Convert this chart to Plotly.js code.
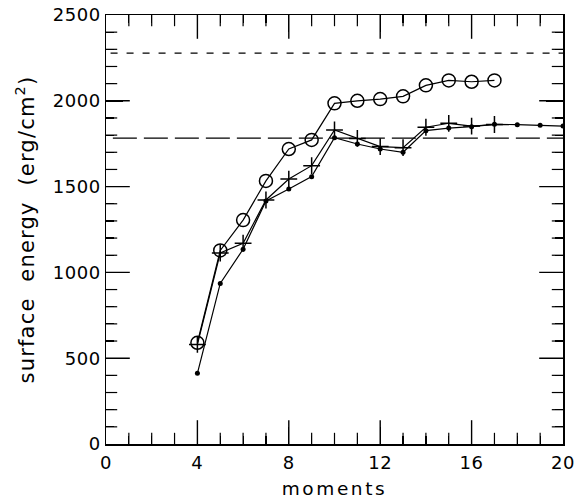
<!DOCTYPE html>
<html>
<head>
<meta charset="utf-8">
<script src="https://cdn.plot.ly/plotly-3.0.1.min.js"></script>
<style>
html,body{margin:0;padding:0;background:#fff;}
#chart{width:574px;height:504px;}
.xtick text, .ytick text{letter-spacing:0.6px;}
.xtitle{letter-spacing:2.6px;}
.ytitle{letter-spacing:1.2px;}
</style>
</head>
<body>
<div id="chart"></div>
<script>
// Data
var momentsCircle = [4, 5, 6, 7, 8, 9, 10, 11, 12, 13, 14, 15, 16, 17];
var energyCircle  = [590, 1128, 1305, 1533, 1719, 1772, 1985, 2000, 2010, 2026, 2090, 2119, 2111, 2119];

var momentsPlus = [4, 5, 6, 7, 8, 9, 10, 11, 12, 13, 14, 15, 16, 17];
var energyPlus  = [580, 1113, 1170, 1422, 1544, 1622, 1830, 1781, 1733, 1727, 1846, 1869, 1853, 1862];

var momentsDot = [4, 5, 6, 7, 8, 9, 10, 11, 12, 13, 14, 15, 16, 17, 18, 19, 20];
var energyDot  = [412, 936, 1135, 1416, 1486, 1558, 1785, 1748, 1719, 1700, 1826, 1841, 1849, 1863, 1861, 1857, 1853];

var refShortDash = 2278;
var refLongDash = 1783;

var xRange = [0, 20];
var yRange = [0, 2500];
var xMajorStep = 4, xMinorStep = 1;
var yMajorStep = 500, yMinorStep = 100;

var lineStyle = {color: '#000', width: 1.2};

// Tick-mark markers along the frame (clipped to the plot, so only the inward half shows)
function tickMarks(major, lenPx, width) {
  var xs = [], ys = [], sym = [];
  for (var xv = xRange[0] + xMinorStep; xv < xRange[1]; xv += xMinorStep) {
    if ((xv % xMajorStep === 0) !== major) continue;
    xs.push(xv, xv); ys.push(yRange[0], yRange[1]); sym.push('line-ns-open', 'line-ns-open');
  }
  for (var yv = yRange[0] + yMinorStep; yv < yRange[1]; yv += yMinorStep) {
    if ((yv % yMajorStep === 0) !== major) continue;
    xs.push(xRange[0], xRange[1]); ys.push(yv, yv); sym.push('line-ew-open', 'line-ew-open');
  }
  return {x: xs, y: ys, mode: 'markers', cliponaxis: true, hoverinfo: 'skip', showlegend: false,
          marker: {symbol: sym, size: 2 * lenPx, color: '#000', line: {color: '#000', width: width}}};
}

var traces = [
  tickMarks(true, 17, 1.4),
  tickMarks(false, 8, 1.2),
  {x: momentsDot, y: energyDot, mode: 'lines+markers', line: lineStyle,
   marker: {symbol: 'circle', size: 5, color: '#000'}},
  {x: momentsPlus, y: energyPlus, mode: 'lines+markers', line: lineStyle,
   marker: {symbol: 'cross-thin-open', size: 12, color: '#000', line: {color: '#000', width: 1.5}}},
  {x: momentsCircle, y: energyCircle, mode: 'lines+markers', line: lineStyle,
   marker: {symbol: 'circle-open', size: 13, color: '#000', line: {color: '#000', width: 1.5}}}
];

var fam = 'DejaVu Sans, Verdana, sans-serif';
var tickFont = {family: fam, size: 18, color: '#000'};

var xaxis = {
  range: xRange, tickmode: 'linear', tick0: 0, dtick: xMajorStep,
  ticks: 'inside', ticklen: 17, tickwidth: 1.4, tickcolor: '#000',
  minor: {tickmode: 'linear', tick0: 0, dtick: xMinorStep, ticks: 'inside', ticklen: 8, tickwidth: 1.2, tickcolor: '#000'},
  showline: true, linecolor: '#000', linewidth: 1.5, mirror: 'allticks',
  showgrid: false, zeroline: false, tickfont: tickFont,
  ticklabeloverflow: 'allow', ticklabelstandoff: 2,
  title: {text: 'moments', font: {family: fam, size: 18.5, color: '#000'}, standoff: 10}
};
var yaxis = {
  range: yRange, tickmode: 'linear', tick0: 0, dtick: yMajorStep,
  ticks: 'inside', ticklen: 17, tickwidth: 1.4, tickcolor: '#000',
  minor: {tickmode: 'linear', tick0: 0, dtick: yMinorStep, ticks: 'inside', ticklen: 8, tickwidth: 1.2, tickcolor: '#000'},
  showline: true, linecolor: '#000', linewidth: 1.5, mirror: 'allticks',
  showgrid: false, zeroline: false, tickfont: tickFont,
  ticklabeloverflow: 'allow', ticklabelstandoff: 0,
  title: {text: 'surface  energy  (erg/cm<sup>2</sup>)', font: {family: fam, size: 21, color: '#000'}, standoff: 12}
};

var layout = {
  width: 574, height: 504,
  margin: {l: 106, r: 11, t: 15, b: 60},
  paper_bgcolor: '#fff', plot_bgcolor: '#fff',
  showlegend: false,
  xaxis: xaxis, yaxis: yaxis,
  shapes: [
    {type: 'line', xref: 'x', yref: 'y', x0: 0.2, x1: xRange[1], y0: refShortDash, y1: refShortDash,
     line: {color: '#000', width: 1.2, dash: '7px,9px'}},
    {type: 'line', xref: 'x', yref: 'y', x0: 0.3, x1: xRange[1], y0: refLongDash, y1: refLongDash,
     line: {color: '#000', width: 1.2, dash: '24px,7px'}}
  ]
};

Plotly.newPlot('chart', traces, layout, {displayModeBar: false, staticPlot: true});
</script>
</body>
</html>
